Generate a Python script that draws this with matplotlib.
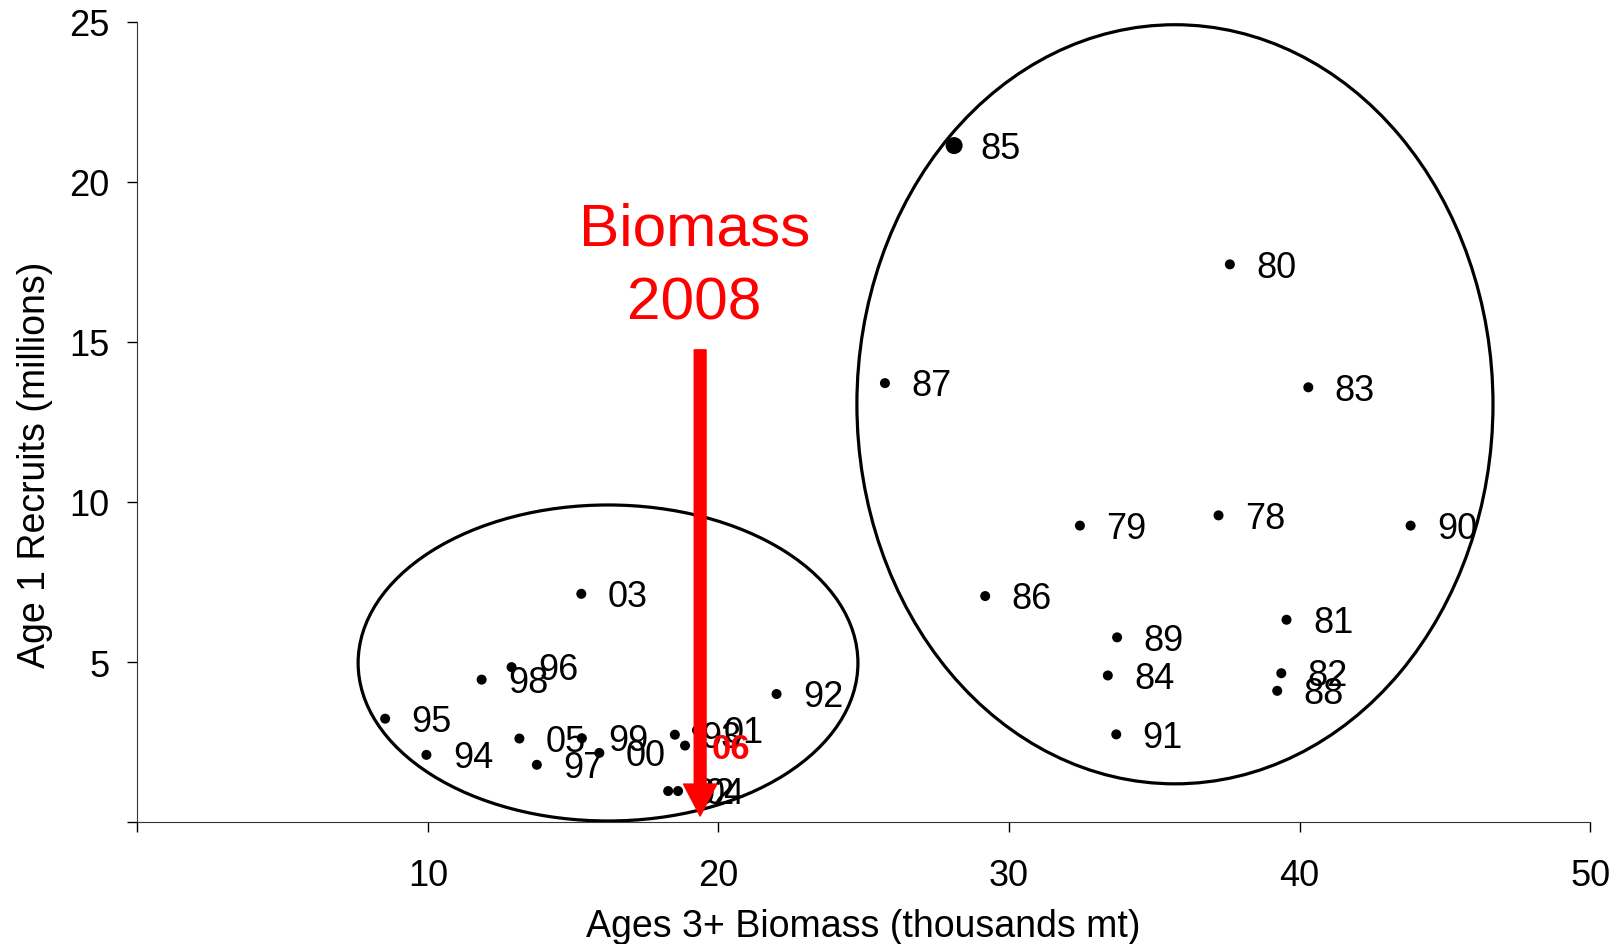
import matplotlib
matplotlib.use('Agg')
from matplotlib import pyplot as plt
from matplotlib.patches import Ellipse

plt.rcParams['font.family'] = ['Liberation Sans', 'DejaVu Sans']

# recruitment vs biomass, labelled by year class
years = ['78', '79', '80', '81', '82', '83', '84', '85', '86', '87', '88', '89', '90', '91',
         '92', '93', '94', '95', '96', '97', '98', '99', '00', '01', '02', '03', '04', '05', '06']
biomass = [37.21, 32.44, 37.60, 39.55, 39.37, 40.30, 33.40, 28.11, 29.18, 25.73, 39.23, 33.72, 43.82, 33.69,
           22.00, 18.50, 9.95, 8.53, 12.88, 13.75, 11.85, 15.30, 15.90, 19.26, 18.27, 15.28, 18.61, 13.15, 18.85]
recruits = [9.58, 9.26, 17.42, 6.32, 4.65, 13.58, 4.58, 21.13, 7.06, 13.71, 4.10, 5.77, 9.26, 2.74,
            4.00, 2.73, 2.10, 3.23, 4.84, 1.79, 4.45, 2.62, 2.16, 2.87, 0.97, 7.13, 0.97, 2.61, 2.39]

# ellipses grouping the two regimes (centre x, centre y, width, height)
low_regime = (16.2, 4.97, 17.2, 9.87)
high_regime = (35.71, 13.05, 21.89, 23.71)

biomass_2008 = 19.37
arrow_top = 14.75
arrow_bottom = 0.19

fig = plt.figure(figsize=(16.19, 9.45), dpi=100)
ax = fig.add_axes([0.0848, 0.129, 0.8974, 0.847])

for e in (low_regime, high_regime):
    ax.add_patch(Ellipse((e[0], e[1]), e[2], e[3], fill=False, edgecolor='black', lw=2.3, zorder=2))

sizes = [150 if y == '85' else 52 for y in years]
ax.scatter(biomass, recruits, s=sizes, color='black', zorder=3, linewidths=0)

for y, bx, r in zip(years, biomass, recruits):
    if y == '06':
        ax.annotate(y, (bx, r), xytext=(19, -2), textcoords='offset points', va='center',
                    fontsize=25, color='red', fontweight='bold', zorder=4)
    else:
        ax.annotate(y, (bx, r), xytext=(19, -2), textcoords='offset points', va='center',
                    fontsize=26, color='black', zorder=4)

# 2008 biomass arrow
ax.annotate('', xy=(biomass_2008, arrow_bottom), xytext=(biomass_2008, arrow_top),
            arrowprops=dict(facecolor='red', edgecolor='red', width=8.5, headwidth=24,
                            headlength=23, shrink=0), zorder=5)
ax.text(biomass_2008 - 0.2, 17.37, 'Biomass\n2008', color='red', fontsize=43.5,
        ha='center', va='center', linespacing=1.45, zorder=5)

ax.set_xlim(0, 50)
ax.set_ylim(0, 25)
ax.set_xticks([0, 10, 20, 30, 40, 50])
ax.set_xticklabels(['', '10', '20', '30', '40', '50'])
ax.set_yticks([0, 5, 10, 15, 20, 25])
ax.set_yticklabels(['', '5', '10', '15', '20', '25'])
ax.tick_params(axis='both', direction='out', length=7, width=1, labelsize=26)
ax.tick_params(axis='x', pad=19)
ax.tick_params(axis='y', pad=13)
ax.spines['top'].set_visible(False)
ax.spines['right'].set_visible(False)
ax.spines['left'].set_color('#333333')
ax.spines['bottom'].set_color('#333333')
ax.set_xlabel('Ages 3+ Biomass (thousands mt)', fontsize=27, labelpad=11)
ax.set_ylabel('Age 1 Recruits (millions)', fontsize=27)
ax.yaxis.set_label_coords(-0.058, 0.448)

fig.savefig('out.png', dpi=100)
